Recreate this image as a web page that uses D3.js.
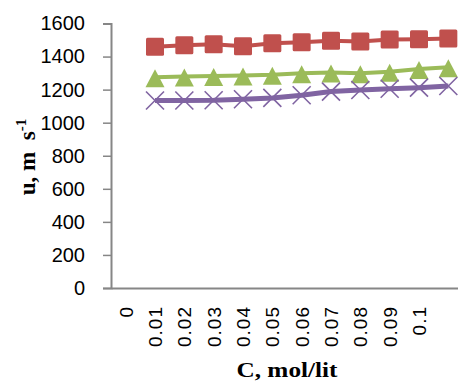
<!DOCTYPE html>
<html lang="en">
<head>
    <title>u vs C</title>
    <script src="https://d3js.org/d3.v7.min.js"></script>
    <style>
      body { margin: 0; background: #fff; }
    </style>
</head>
<body>
  <svg width=458 height=384></svg>
    <script>
        // tick labels along x (the last slot has no label)
        let categories = ["0", "0.01", "0.02", "0.03", "0.04", "0.05", "0.06", "0.07", "0.08", "0.09", "0.1", ""];
        let yTicks = [0, 200, 400, 600, 800, 1000, 1200, 1400, 1600];

        // series values, starting at the 0.01 slot
        let pointCats = categories.slice(1);
        let redSeries = [1459, 1469, 1475, 1463, 1480, 1487, 1495, 1491, 1503, 1505, 1510];
        let greenSeries = [1275, 1279, 1283, 1285, 1290, 1299, 1303, 1299, 1308, 1325, 1335];
        let purpleSeries = [1134, 1134, 1136, 1142, 1150, 1166, 1188, 1198, 1205, 1212, 1222];

        const svg = d3.select("svg");
        const axisColor = "#868686";

        const x = d3.scaleBand().domain(categories).range([111, 463]).padding(0);
        const y = d3.scaleLinear().domain([0, 1600]).range([288, 23.5]);
        const cx = c => x(c) + x.bandwidth() / 2;

        // y axis
        const yAxis = svg.append("g")
           .attr("transform", "translate(111,0)")
           .call(d3.axisLeft(y).tickValues(yTicks).tickSize(8).tickPadding(18).tickFormat(d3.format("d")));
        yAxis.select(".domain").attr("stroke", axisColor).attr("stroke-width", 2);
        yAxis.selectAll(".tick line").attr("stroke", axisColor).attr("stroke-width", 1.5);
        yAxis.selectAll(".tick text")
           .attr("font-family", "Liberation Sans, Arial, sans-serif")
           .attr("font-size", 20)
           .attr("fill", "#000");

        // x axis
        const xAxis = svg.append("g")
           .attr("transform", "translate(0,288)")
           .call(d3.axisBottom(x).tickSize(0).tickPadding(0));
        xAxis.select(".domain").attr("stroke", axisColor).attr("stroke-width", 2);
        xAxis.selectAll(".tick text")
           .attr("font-family", "Liberation Sans, Arial, sans-serif")
           .attr("font-size", 19)
           .attr("fill", "#000")
           .attr("transform", "rotate(-90)")
           .attr("text-anchor", "end")
           .attr("x", -18)
           .attr("y", 0)
           .attr("dy", "0.36em")
           .attr("letter-spacing", 1);

        // axis titles
        svg.append("text")
           .attr("x", 287).attr("y", 377)
           .attr("text-anchor", "middle")
           .attr("font-family", "Liberation Serif, Times New Roman, serif")
           .attr("font-weight", "bold")
           .attr("font-size", 21)
           .attr("textLength", 101)
           .attr("lengthAdjust", "spacingAndGlyphs")
           .text("C, mol/lit");

        const yTitle = svg.append("text")
           .attr("transform", "translate(35,157) rotate(-90)")
           .attr("text-anchor", "middle")
           .attr("font-family", "Liberation Serif, Times New Roman, serif")
           .attr("font-weight", "bold")
           .attr("font-size", 23);
        yTitle.append("tspan").text("u, m\u00a0\u00a0s");
        yTitle.append("tspan").attr("dy", -9).attr("font-size", 15).text("-1");

        const line = d3.line().x((d, i) => cx(pointCats[i])).y(d => y(d));

        // red squares
        svg.append("path").datum(redSeries)
           .attr("d", line).attr("fill", "none")
           .attr("stroke", "#C0504D").attr("stroke-width", 4);
        svg.selectAll(".sq").data(redSeries).enter().append("rect")
           .attr("x", (d, i) => cx(pointCats[i]) - 9)
           .attr("y", d => y(d) - 9)
           .attr("width", 18).attr("height", 18).attr("rx", 1.5)
           .attr("fill", "#C0504D");

        // green triangles
        svg.append("path").datum(greenSeries)
           .attr("d", line).attr("fill", "none")
           .attr("stroke", "#9BBB59").attr("stroke-width", 4);
        svg.selectAll(".tri").data(greenSeries).enter().append("path")
           .attr("d", (d, i) => {
               const px = cx(pointCats[i]), py = y(d);
               return `M${px},${py - 8}L${px + 9.5},${py + 10}L${px - 9.5},${py + 10}Z`;
           })
           .attr("fill", "#9BBB59");

        // purple crosses
        svg.append("path").datum(purpleSeries)
           .attr("d", line).attr("fill", "none")
           .attr("stroke", "#8064A2").attr("stroke-width", 5);
        svg.selectAll(".cr").data(purpleSeries).enter().append("path")
           .attr("d", (d, i) => {
               const px = cx(pointCats[i]), py = y(d);
               return `M${px - 9},${py - 9}L${px + 9},${py + 9}M${px + 9},${py - 9}L${px - 9},${py + 9}`;
           })
           .attr("stroke", "#8064A2").attr("stroke-width", 1.6).attr("fill", "none");
    </script>
</body>
</html>
